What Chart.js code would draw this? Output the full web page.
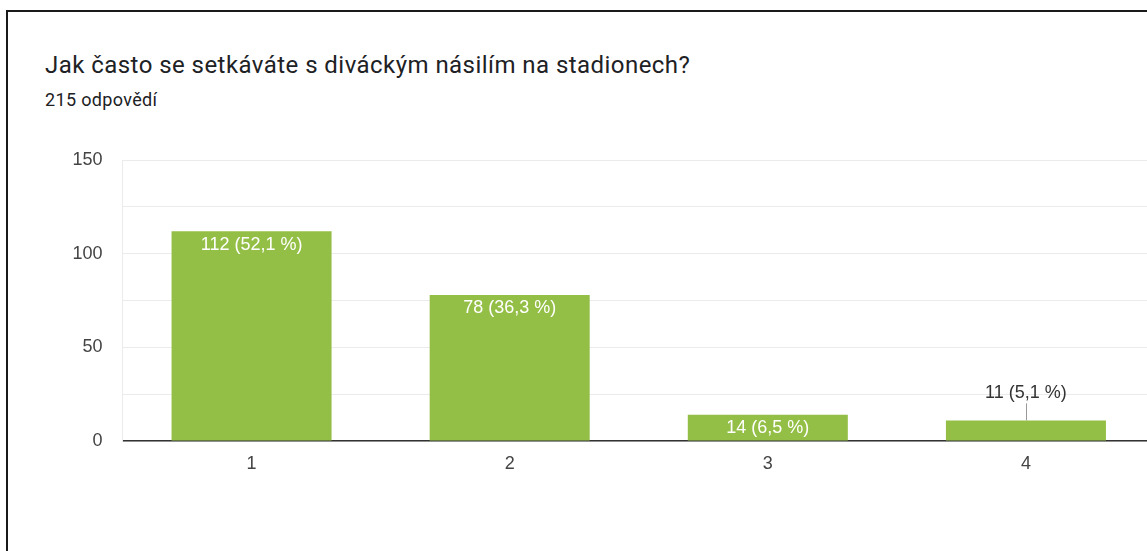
<!DOCTYPE html>
<html>
<head>
<meta charset="utf-8">
<script src="https://cdn.jsdelivr.net/npm/chart.js@4/dist/chart.umd.min.js"></script>
<style>
  html, body { margin: 0; padding: 0; background: #fff; overflow: hidden; width: 1147px; height: 551px; }
  #frame { position: absolute; left: 6px; top: 10px; width: 1200px; height: 600px; border-left: 2px solid #1a1a1a; border-top: 2px solid #1a1a1a; }
  #title { position: absolute; left: 45px; top: 53px; font-family: Roboto, sans-serif; font-size: 24px; letter-spacing: 0.45px; color: #202124; line-height: 24px; white-space: nowrap; }
  #sub { position: absolute; left: 45px; top: 91px; font-family: Roboto, sans-serif; font-size: 18px; letter-spacing: 0.35px; color: #202124; line-height: 18px; white-space: nowrap; }
  #wrap { position: absolute; left: 0; top: 0; width: 1160px; height: 551px; }
</style>
</head>
<body>
<div id="frame"></div>
<div id="title">Jak často se setkáváte s diváckým násilím na stadionech?</div>
<div id="sub">215 odpovědí</div>
<div id="wrap"><canvas id="c" width="1160" height="551"></canvas></div>
<script>
const categories = ["1", "2", "3", "4"];
const counts = [112, 78, 14, 11];
const labels = ["112 (52,1 %)", "78 (36,3 %)", "14 (6,5 %)", "11 (5,1 %)"];
const yTicks = [0, 50, 100, 150];

const barLabelPlugin = {
  id: 'barLabels',
  afterDatasetsDraw(chart) {
    const ctx = chart.ctx;
    const meta = chart.getDatasetMeta(0);
    ctx.save();
    ctx.font = '18px "Liberation Sans", Arial, sans-serif';
    ctx.textAlign = 'center';
    ctx.textBaseline = 'middle';
    meta.data.forEach((bar, i) => {
      const h = bar.base - bar.y;
      if (h > 22) {
        ctx.fillStyle = '#ffffff';
        ctx.fillText(labels[i], bar.x, bar.y + 13.5);
      } else {
        ctx.strokeStyle = '#999999';
        ctx.lineWidth = 1;
        ctx.beginPath();
        ctx.moveTo(Math.round(bar.x) + 0.5, bar.y - 17);
        ctx.lineTo(Math.round(bar.x) + 0.5, bar.y);
        ctx.stroke();
        ctx.fillStyle = '#333333';
        ctx.fillText(labels[i], bar.x, bar.y - 27);
      }
    });
    ctx.restore();
  }
};

new Chart(document.getElementById('c'), {
  type: 'bar',
  data: {
    labels: categories,
    datasets: [{
      data: counts,
      backgroundColor: '#94bf46',
      borderWidth: 0,
      barPercentage: 0.62,
      categoryPercentage: 1.0
    }]
  },
  options: {
    responsive: false,
    animation: false,
    devicePixelRatio: 1,
    layout: { padding: { top: 160, right: 5, bottom: 0, left: 0 } },
    plugins: { legend: { display: false }, tooltip: { enabled: false }, title: { display: false } },
    scales: {
      x: {
        grid: { display: false, drawTicks: false },
        border: { display: true, color: '#333333', width: 1.5 },
        ticks: { color: '#444444', font: { family: '"Liberation Sans", Arial, sans-serif', size: 18 }, padding: 12 },
        afterFit(scale) { scale.height = 110; }
      },
      y: {
        min: 0, max: 150,
        grid: { color: '#ebebeb', drawTicks: false },
        border: { display: true, color: '#ebebeb' },
        ticks: {
          stepSize: 25,
          color: '#444444',
          font: { family: '"Liberation Sans", Arial, sans-serif', size: 18 },
          padding: 20,
          callback: (v) => yTicks.includes(v) ? String(v) : ''
        },
        afterFit(scale) { scale.width = 122.5; }
      }
    }
  },
  plugins: [barLabelPlugin]
});
</script>
</body>
</html>
